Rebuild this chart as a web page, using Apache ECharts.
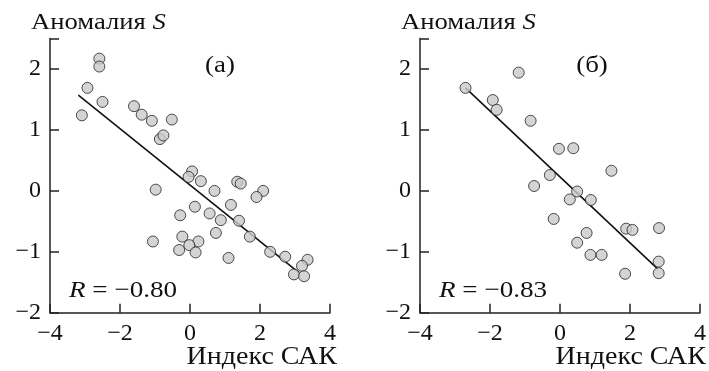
<!DOCTYPE html>
<html><head><meta charset="utf-8">
<script src="https://cdn.jsdelivr.net/npm/echarts@6/dist/echarts.min.js"></script>
<style>html,body{margin:0;padding:0;background:#fff}#c{width:709px;height:371px}</style>
</head><body><div id="c"></div>
<script>
// Panel (а)
const ptsA_x = [-3.09,-2.93,-2.59,-2.59,-2.50,-1.60,-1.38,-1.09,-0.52,-0.86,-0.76,0.06,-0.04,0.31,-0.98,0.70,1.35,1.45,2.09,1.90,1.17,0.14,-0.28,0.56,0.88,1.40,0.74,1.71,-0.22,-1.06,0.24,-0.02,-0.31,0.16,1.10,2.29,2.72,3.36,3.20,2.97,3.26];
const ptsA_y = [1.24,1.69,2.17,2.04,1.46,1.39,1.25,1.15,1.17,0.85,0.91,0.32,0.23,0.16,0.02,0.00,0.15,0.12,0.00,-0.10,-0.23,-0.26,-0.40,-0.37,-0.48,-0.49,-0.69,-0.75,-0.75,-0.83,-0.83,-0.89,-0.97,-1.01,-1.10,-1.00,-1.08,-1.13,-1.23,-1.37,-1.40];
const lineA_x = [-3.19, 3.11];
const lineA_y = [1.57, -1.34];
// Panel (б)
const ptsB_x = [-2.70,-1.92,-1.81,-1.18,-0.84,-0.03,0.38,1.47,-0.29,-0.74,0.49,0.28,0.88,-0.18,0.76,0.49,0.87,1.19,1.89,2.07,2.83,2.82,2.82,1.86];
const ptsB_y = [1.69,1.49,1.33,1.94,1.15,0.69,0.70,0.33,0.26,0.08,-0.01,-0.14,-0.15,-0.46,-0.69,-0.85,-1.05,-1.05,-0.62,-0.64,-0.61,-1.16,-1.35,-1.36];
const lineB_x = [-2.70, 2.79];
const lineB_y = [1.69, -1.28];
const xTicks = {min: -4, max: 4, interval: 2};
const yTicks = {min: -2, max: 2.5, interval: 1};
const yTitle = 'Аномалия ';
const xTitle = 'Индекс САК';
const rA = '−0.80', rB = '−0.83';
const panelA = '(а)', panelB = '(б)';

const FONT = '"Liberation Serif","Times New Roman",serif';
const zip = (xs, ys) => xs.map((x, i) => [x, ys[i]]);
const fmt = v => (v < 0 ? '−' + Math.abs(v) : String(v));

function xAx(gi) {
  return {
    type: 'value', gridIndex: gi, min: xTicks.min, max: xTicks.max, interval: xTicks.interval,
    axisLine: {show: true, onZero: false, lineStyle: {color: '#222', width: 1.5}},
    axisTick: {show: true, inside: true, length: 9, lineStyle: {color: '#222', width: 1.5}},
    axisLabel: {formatter: fmt, color: '#111', fontFamily: FONT, fontSize: 24, margin: 9},
    splitLine: {show: false}
  };
}
function yAx(gi) {
  return {
    type: 'value', gridIndex: gi, min: yTicks.min, max: yTicks.max, interval: yTicks.interval,
    axisLine: {show: true, onZero: false, lineStyle: {color: '#222', width: 1.5}},
    axisTick: {show: true, inside: true, length: 9, lineStyle: {color: '#222', width: 1.5}},
    axisLabel: {formatter: v => (v > 2 ? '' : fmt(v)), color: '#111', fontFamily: FONT, fontSize: 24, margin: 9},
    splitLine: {show: false}
  };
}
const scat = (gi, data) => ({
  type: 'scatter', xAxisIndex: gi, yAxisIndex: gi, data, symbolSize: 11,
  itemStyle: {color: '#c9c9c9', borderColor: '#222', borderWidth: 1}, z: 3
});
const ln = (gi, data) => ({
  type: 'line', xAxisIndex: gi, yAxisIndex: gi, data, symbol: 'none',
  lineStyle: {color: '#111', width: 1.6}, z: 2
});
const txt = (left, top, fs, sx, text, align) => ({
  type: 'text', x: left, y: top, scaleX: sx,
  style: {
    text, fontFamily: FONT, fontSize: fs, fill: '#111', align: align || 'left', verticalAlign: 'middle',
    rich: {i: {fontStyle: 'italic', fontFamily: FONT, fontSize: fs}, n: {fontFamily: FONT, fontSize: fs}}
  }
});

const chart = echarts.init(document.getElementById('c'), null, {renderer: 'canvas'});
chart.setOption({
  animation: false,
  backgroundColor: '#fff',
  grid: [
    {left: 50, top: 38.5, width: 280, height: 274.3},
    {left: 420, top: 38.5, width: 280, height: 274.3}
  ],
  xAxis: [xAx(0), xAx(1)],
  yAxis: [yAx(0), yAx(1)],
  series: [
    ln(0, zip(lineA_x, lineA_y)), scat(0, zip(ptsA_x, ptsA_y)),
    ln(1, zip(lineB_x, lineB_y)), scat(1, zip(ptsB_x, ptsB_y))
  ],
  graphic: [
    txt(31, 23, 24, 1.11, '{n|' + yTitle + '}{i|S}'),
    txt(401, 23, 24, 1.11, '{n|' + yTitle + '}{i|S}'),
    txt(220, 66, 24, 1.12, '{n|' + panelA + '}', 'center'),
    txt(592, 66, 24, 1.12, '{n|' + panelB + '}', 'center'),
    txt(69, 291, 24, 1.13, '{i|R}{n| = ' + rA + '}'),
    txt(439, 291, 24, 1.13, '{i|R}{n| = ' + rB + '}'),
    txt(337, 357.5, 25, 1.12, '{n|' + xTitle + '}', 'right'),
    txt(706, 357.5, 25, 1.12, '{n|' + xTitle + '}', 'right')
  ]
});
</script></body></html>
